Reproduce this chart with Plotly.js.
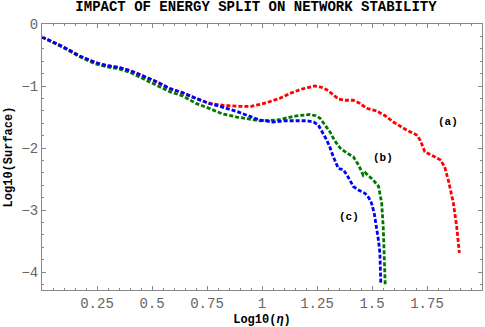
<!DOCTYPE html>
<html>
<head>
<meta charset="utf-8">
<script src="https://cdn.plot.ly/plotly-3.0.1.min.js"></script>
<style>
body { margin: 0; background: white; }
#graph { width: 485px; height: 327px; }
</style>
</head>
<body>
<div id="graph"></div>
<script>
// Datos de las curvas
var xA = [0, 0.097, 0.173, 0.241, 0.294, 0.347, 0.40, 0.46, 0.52, 0.58, 0.64, 0.70, 0.76,
    0.82, 0.9, 0.95, 1.02, 1.08, 1.127, 1.18, 1.24, 1.27, 1.294, 1.32, 1.347, 1.38, 1.415,
    1.445, 1.476, 1.52, 1.56, 1.597, 1.657, 1.703, 1.72, 1.74, 1.78, 1.81, 1.83, 1.847,
    1.87, 1.885, 1.897];
var yA = [-0.21, -0.37, -0.52, -0.62, -0.67, -0.70, -0.75, -0.84, -0.93, -1.04, -1.11, -1.20, -1.28,
    -1.31, -1.33, -1.33, -1.27, -1.20, -1.12, -1.05, -1.00, -1.02, -1.06, -1.13, -1.21, -1.23, -1.23,
    -1.28, -1.36, -1.40, -1.48, -1.58, -1.71, -1.79, -1.88, -2.06, -2.14, -2.19, -2.30, -2.52,
    -2.89, -3.27, -3.69];

var xB = [0, 0.097, 0.173, 0.241, 0.294, 0.347, 0.40, 0.46, 0.52, 0.58, 0.64, 0.70, 0.76,
    0.82, 0.885, 0.945, 0.99, 1.067, 1.12, 1.158, 1.218, 1.245, 1.264, 1.285, 1.309, 1.33,
    1.355, 1.385, 1.415, 1.44, 1.46, 1.47, 1.483, 1.506, 1.53, 1.544, 1.551, 1.556, 1.56];
var yB = [-0.21, -0.38, -0.53, -0.64, -0.69, -0.72, -0.78, -0.88, -0.98, -1.09, -1.16, -1.28, -1.36,
    -1.45, -1.50, -1.54, -1.56, -1.55, -1.51, -1.48, -1.46, -1.48, -1.52, -1.62, -1.74, -1.88,
    -2.00, -2.08, -2.14, -2.28, -2.44, -2.40, -2.44, -2.52, -2.62, -2.89, -3.27, -3.70, -4.20];

var xC = [0, 0.097, 0.173, 0.241, 0.294, 0.347, 0.40, 0.46, 0.52, 0.58, 0.64, 0.70, 0.76,
    0.82, 0.885, 0.945, 0.99, 1.05, 1.11, 1.2, 1.235, 1.256, 1.275, 1.294, 1.31, 1.324,
    1.347, 1.37, 1.39, 1.415, 1.44, 1.468, 1.485, 1.498, 1.51, 1.52, 1.53, 1.536, 1.54];
var yC = [-0.21, -0.37, -0.52, -0.62, -0.67, -0.70, -0.75, -0.84, -0.93, -1.04, -1.11, -1.20, -1.28,
    -1.34, -1.41, -1.49, -1.55, -1.58, -1.56, -1.56, -1.58, -1.63, -1.74, -1.87, -2.00, -2.14,
    -2.33, -2.35, -2.46, -2.62, -2.68, -2.73, -2.80, -2.89, -3.05, -3.27, -3.50, -3.70, -4.18];

// Etiquetas de las curvas
var etiquetas = ['(a)', '(b)', '(c)'];
var etiqX = [1.846, 1.55, 1.396];
var etiqY = [-1.58, -2.16, -3.11];

// Ticks
var xTicks = [0.25, 0.5, 0.75, 1, 1.25, 1.5, 1.75, 2];
var xTickText = ['0.25', '0.5', '0.75', '1', '1.25', '1.5', '1.75', '2'];
var yTicks = [0, -1, -2, -3, -4];
var yTickText = ['0', '\u22121', '\u22122', '\u22123', '\u22124'];

var mono = 'Liberation Mono, Courier New, monospace';

function traza(x, y, color) {
    return {
        x: x,
        y: y,
        mode: 'lines',
        line: { color: color, width: 2.8, dash: '4px,2px' },
        hoverinfo: 'none'
    };
}

var data = [
    traza(xA, yA, 'rgb(255,0,0)'),
    traza(xB, yB, 'rgb(0,120,0)'),
    traza(xC, yC, 'rgb(0,0,255)')
];

var anotaciones = [];
for (var i = 0; i < etiquetas.length; i++) {
    anotaciones.push({
        x: etiqX[i],
        y: etiqY[i],
        text: etiquetas[i],
        showarrow: false,
        font: { family: mono, size: 11, color: 'black', weight: 'bold' }
    });
}

var ejeComun = {
    showgrid: false,
    zeroline: false,
    showline: true,
    linecolor: '#888',
    linewidth: 1,
    mirror: 'allticks',
    ticks: 'inside',
    ticklen: 4,
    tickcolor: '#888',
    tickfont: { family: mono, size: 14, color: '#666' },
    tickmode: 'array'
};

var layout = {
    width: 485,
    height: 327,
    margin: { l: 42, r: 3, t: 24, b: 37 },
    paper_bgcolor: 'white',
    plot_bgcolor: 'white',
    showlegend: false,
    title: {
        text: 'IMPACT OF ENERGY SPLIT ON NETWORK STABILITY',
        font: { family: mono, size: 14, color: 'black', weight: 'bold' },
        x: 256 / 485,
        xanchor: 'center',
        y: 1 - 6 / 327,
        yanchor: 'middle',
        yref: 'container'
    },
    xaxis: Object.assign({}, ejeComun, {
        range: [0, 2],
        tickvals: xTicks,
        ticktext: xTickText,
        minor: { dtick: 0.05, ticklen: 2, tickcolor: '#888', ticks: 'inside' },
        title: {
            text: 'Log10(<i>\u03b7</i>)',
            font: { family: mono, size: 12, color: 'black', weight: 'bold' },
            standoff: 5
        }
    }),
    yaxis: Object.assign({}, ejeComun, {
        range: [-4.29, 0],
        tickvals: yTicks,
        ticktext: yTickText,
        minor: { dtick: 0.2, ticklen: 2, tickcolor: '#888', ticks: 'inside' },
        title: {
            text: 'Log10(Surface)',
            font: { family: mono, size: 12, color: 'black', weight: 'bold' },
            standoff: 6
        }
    }),
    annotations: anotaciones
};

Plotly.newPlot('graph', data, layout, { staticPlot: true });
</script>
</body>
</html>
